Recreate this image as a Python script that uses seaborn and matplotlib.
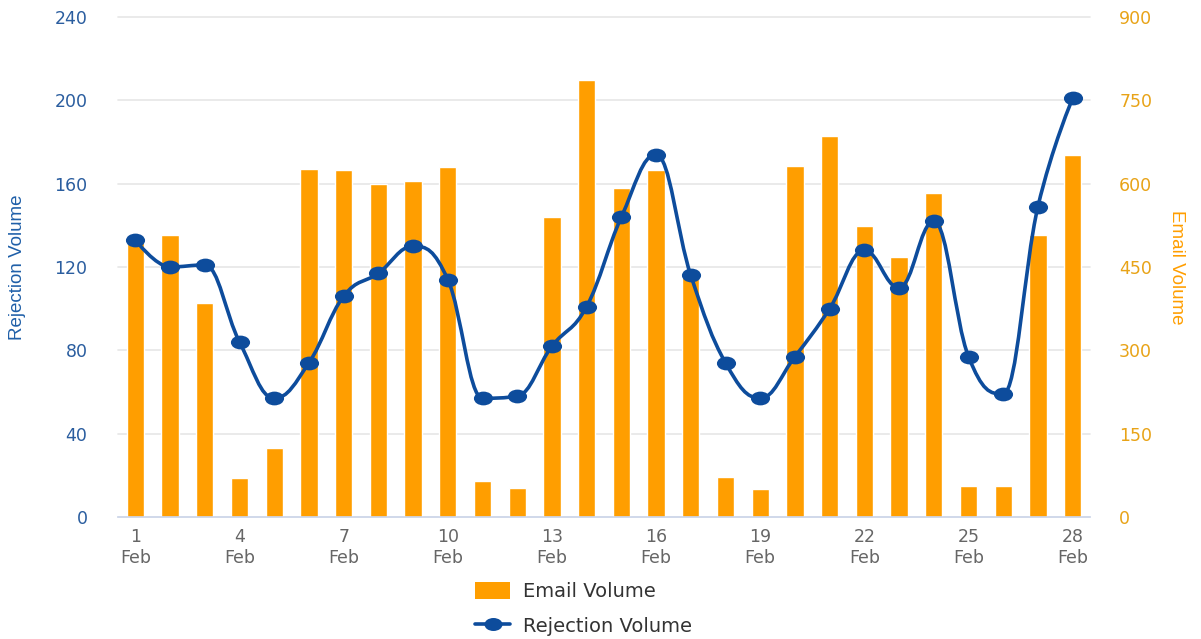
import numpy as np
import pandas as pd
import matplotlib
matplotlib.use("Agg")
import matplotlib.pyplot as plt
import seaborn as sns
from matplotlib.path import Path
from matplotlib.patches import PathPatch, Patch
from matplotlib.lines import Line2D
from matplotlib.transforms import Affine2D

# Data (February, days 1-28)
days = list(range(1, 29))
email_volume = [500, 507, 385, 70, 125, 626, 625, 600, 605, 630,
                65, 52, 540, 787, 592, 624, 433, 72, 50, 632,
                685, 523, 468, 583, 55, 55, 507, 652]
rejection_volume = [133, 120, 121, 84, 57, 74, 106, 117, 130, 114,
                    57, 58, 82, 101, 144, 174, 116, 74, 57, 77,
                    100, 128, 110, 142, 77, 59, 149, 201]

orange = "#FF9E00"
blue = "#0D4C9C"
grid_col = "#E6E6E6"
axis_col = "#CCD6EB"

df = pd.DataFrame({"day": [str(d) for d in days],
                   "email": email_volume,
                   "rejection": rejection_volume})
df["pos"] = np.arange(len(df))

sns.set_style("white")
plt.rcParams["font.family"] = ["DejaVu Sans"]


def spline_path(xs, ys, smoothing=1.5):
    # smooth curve through the points (cubic bezier segments)
    denom = smoothing + 1
    n = len(xs)
    left = [(xs[i], ys[i]) for i in range(n)]
    right = [(xs[i], ys[i]) for i in range(n)]
    for i in range(1, n - 1):
        lx, ly = xs[i - 1], ys[i - 1]
        px, py = xs[i], ys[i]
        nx, ny = xs[i + 1], ys[i + 1]
        lcx = (smoothing * px + lx) / denom
        lcy = (smoothing * py + ly) / denom
        rcx = (smoothing * px + nx) / denom
        rcy = (smoothing * py + ny) / denom
        corr = (rcy - lcy) * (rcx - px) / (rcx - lcx) + py - rcy
        lcy += corr
        rcy += corr
        if lcy > ly and lcy > py:
            lcy = max(ly, py)
            rcy = 2 * py - lcy
        elif lcy < ly and lcy < py:
            lcy = min(ly, py)
            rcy = 2 * py - lcy
        if rcy > ny and rcy > py:
            rcy = max(ny, py)
            lcy = 2 * py - rcy
        elif rcy < ny and rcy < py:
            rcy = min(ny, py)
            lcy = 2 * py - rcy
        left[i] = (lcx, lcy)
        right[i] = (rcx, rcy)
    verts = [(xs[0], ys[0])]
    codes = [Path.MOVETO]
    for i in range(1, n):
        verts += [right[i - 1], left[i], (xs[i], ys[i])]
        codes += [Path.CURVE4] * 3
    return Path(verts, codes)


fig = plt.figure(figsize=(12.01, 6.39), dpi=100)
ax = fig.add_axes([118 / 1201, 1 - 517 / 639, 972 / 1201, 500 / 639])
ax2 = ax.twinx()

# Email volume bars (right scale)
sns.barplot(data=df, x="day", y="email", ax=ax, color=orange,
            saturation=1, width=0.5, zorder=2)
ax.set_ylim(0, 900)
ax.set_yticks(np.arange(0, 901, 150))
ax.yaxis.tick_right()
ax.yaxis.set_label_position("right")
ax.set_ylabel("Email Volume", color=orange, rotation=270,
              fontsize=13.5, family=["Liberation Sans", "DejaVu Sans"])
ax.yaxis.set_label_coords(1.098, 0.5)
ax.tick_params(axis="y", length=0, pad=21, labelsize=12.5, labelcolor="#E8A317")
ax.grid(axis="y", color=grid_col, linewidth=1.2, zorder=0)
for gl in ax.get_ygridlines():
    gl.set_clip_on(False)
ax.set_axisbelow(True)

# Rejection volume line (left scale)
ax2.add_patch(PathPatch(spline_path(df["pos"].values, df["rejection"].values),
                        fill=False, edgecolor=blue, linewidth=2.6, zorder=3))
dot = Path.unit_circle().transformed(Affine2D().scale(1, 0.72))
sns.scatterplot(data=df, x="pos", y="rejection", ax=ax2, color=blue,
                marker=dot, s=190, linewidth=0, zorder=4)
ax2.set_ylim(0, 240)
ax2.set_yticks(np.arange(0, 241, 40))
ax2.yaxis.tick_left()
ax2.yaxis.set_label_position("left")
ax2.set_ylabel("Rejection Volume", color="#1F5FA8",
               fontsize=13.5, family=["Liberation Sans", "DejaVu Sans"])
ax2.yaxis.set_label_coords(-0.095, 0.5)
ax2.tick_params(axis="y", length=0, pad=22, labelsize=12.5, labelcolor="#2A5D9F")

# x axis: boundary ticks and day labels every 3 days
ax.set_xlim(-0.5, len(days) - 0.5)
ax.set_xticks(np.arange(0, len(days), 3))
ax.set_xticklabels([f"{d}\nFeb" for d in days[::3]])
ax.set_xticks(np.arange(-0.5, len(days), 1), minor=True)
ax.tick_params(axis="x", which="major", length=0, pad=8, labelsize=12.5,
               labelcolor="#666666")
ax.tick_params(axis="x", which="minor", length=11, width=1.2, color=axis_col,
               direction="out")
ax.set_xlabel("")
ax2.set_xlabel("")
for a in (ax, ax2):
    for side in ("top", "left", "right", "bottom"):
        a.spines[side].set_visible(False)
ax.spines["bottom"].set_visible(True)
ax.spines["bottom"].set_color(axis_col)
ax.spines["bottom"].set_linewidth(1.2)
ax.spines["bottom"].set_zorder(5)

handles = [Patch(facecolor=orange, edgecolor="none"),
           Line2D([0], [0], color=blue, linewidth=2.6, marker=dot,
                  markersize=13, markeredgewidth=0)]
fig.legend(handles, ["Email Volume", "Rejection Volume"],
           loc="center left", bbox_to_anchor=(475 / 1201, 1 - 609 / 639),
           frameon=False, fontsize=14, labelcolor="#333333",
           handlelength=1.8, handleheight=1.0, handletextpad=0.65,
           labelspacing=0.8, borderpad=0, borderaxespad=0)

fig.savefig("out.png", dpi=100, facecolor="white")
